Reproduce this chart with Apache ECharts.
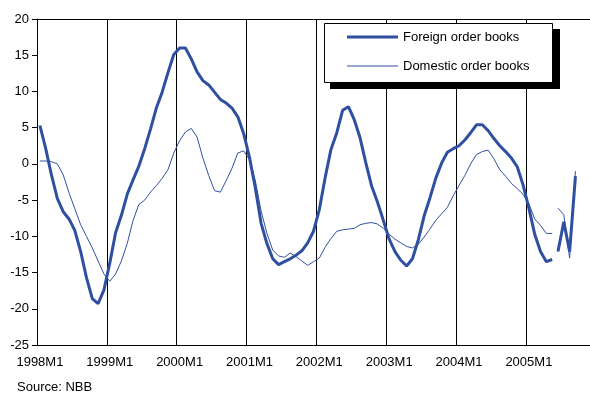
<!DOCTYPE html>
<html>
<head>
<meta charset="utf-8">
<script src="https://cdn.jsdelivr.net/npm/echarts@6/dist/echarts.min.js"></script>
<style>
  html, body { margin: 0; padding: 0; background: #fff; }
  #main { width: 590px; height: 396px; }
</style>
</head>
<body>
<div id="main"></div>
<script>
// monthly categories 1998M1 .. 2005M11
const years = [1998, 1999, 2000, 2001, 2002, 2003, 2004, 2005];
const months = [];
years.forEach(function (y) {
  for (let m = 1; m <= 12; m++) months.push(y + "M" + m);
});
const categories = months.slice(0, 95);

const foreign = [
  5.3, 2.1, -1.6, -4.8, -6.6, -7.6, -9.2, -12.1, -15.7, -18.6, -19.3, -17.4,
  -13.7, -9.5, -7.1, -4.2, -2.2, -0.3, 2.1, 4.8, 7.7, 9.9, 12.6, 15.1,
  16.0, 16.0, 14.5, 12.7, 11.5, 10.9, 9.9, 8.9, 8.4, 7.7, 6.5, 4.2,
  0.9, -3.3, -8.2, -11.0, -13.1, -13.9, -13.5, -13.1, -12.6, -12.0, -10.9, -9.3,
  -6.3, -1.9, 2.0, 4.3, 7.4, 7.9, 6.1, 3.6, 0.1, -3.1, -5.3, -7.8,
  -10.4, -12.1, -13.3, -14.1, -13.1, -10.5, -7.2, -4.7, -2.0, 0.1, 1.6, 2.1,
  2.5, 3.3, 4.3, 5.4, 5.4, 4.6, 3.5, 2.5, 1.7, 0.8, -0.4, -2.9,
  -6.1, -9.7, -12.1, -13.5, -13.2
];
const foreignTail = [-12.1, -8.0, -12.1, -1.7];

const domestic = [
  0.4, 0.4, 0.3, 0.0, -1.5, -4.0, -6.2, -8.4, -10.0, -11.6, -13.4, -15.2,
  -16.2, -15.2, -13.4, -11.0, -7.8, -5.6, -5.0, -3.9, -3.0, -2.0, -0.8, 1.5,
  3.2, 4.4, 4.9, 3.7, 0.8, -1.6, -3.7, -3.9, -2.3, -0.6, 1.5, 1.8,
  0.6, -2.3, -6.5, -9.6, -11.9, -12.7, -12.9, -12.3, -12.8, -13.4, -14.0, -13.5,
  -13.0, -11.5, -10.3, -9.3, -9.1, -9.0, -8.9, -8.4, -8.2, -8.1, -8.3, -8.9,
  -9.7, -10.4, -10.9, -11.4, -11.6, -11.1, -10.1, -9.0, -7.8, -6.9, -6.0, -4.4,
  -3.0, -1.6, 0.0, 1.3, 1.7, 1.9, 0.7, -0.8, -1.7, -2.7, -3.4, -4.2,
  -5.5, -7.6, -8.5, -9.6, -9.6
];
const domesticTail = [-6.1, -7.0, -13.0, -1.0];

const seriesNames = ["Foreign order books", "Domestic order books"];

// split each series in two pieces so the break before the last months shows
function head(arr) {
  return arr.concat(new Array(categories.length - arr.length).fill(null));
}
function tail(start, arr) {
  const out = new Array(categories.length).fill(null);
  arr.forEach(function (v, i) { out[start + i] = v; });
  return out;
}

const blue = "#2F4FA0";
const font = "'Liberation Sans', Arial, sans-serif";

const chart = echarts.init(document.getElementById("main"));

chart.setOption({
  animation: false,
  textStyle: { fontFamily: font },
  grid: { left: 37, right: 0, top: 19, bottom: 51 },
  legend: {
    data: [
      { name: seriesNames[0], icon: "path://M0,0L51,0L51,3L0,3Z" },
      { name: seriesNames[1], icon: "path://M0,0L51,0L51,1L0,1Z" }
    ],
    orient: "vertical",
    left: 347,
    top: 30,
    padding: 0,
    itemWidth: 51,
    itemHeight: 14,
    itemGap: 15,
    itemStyle: { color: blue, borderWidth: 0 },
    lineStyle: { width: 0 },
    textStyle: { color: "#000", fontSize: 13, lineHeight: 14, fontFamily: font }
  },
  xAxis: [
    {
      type: "category",
      data: categories,
      axisLine: { onZero: false, lineStyle: { color: "#000", width: 1 } },
      axisTick: { show: false, interval: 11 },
      axisLabel: { interval: 11, color: "#000", fontSize: 13, margin: 11 },
      splitLine: { show: true, interval: 11, lineStyle: { color: "#000", width: 1 } }
    },
    {
      // top frame line
      type: "category",
      position: "top",
      data: categories,
      axisLine: { onZero: false, lineStyle: { color: "#000", width: 1 } },
      axisTick: { show: false },
      axisLabel: { show: false }
    }
  ],
  yAxis: {
    type: "value",
    min: -25,
    max: 20,
    interval: 5,
    axisLine: { show: true, lineStyle: { color: "#000", width: 1 } },
    axisTick: { show: true, length: 5, lineStyle: { color: "#000" } },
    axisLabel: { color: "#000", fontSize: 13, margin: 8 },
    splitLine: { show: false }
  },
  series: [
    {
      name: seriesNames[0],
      type: "line",
      data: head(foreign),
      symbol: "none",
      lineStyle: { color: blue, width: 3 },
      itemStyle: { color: blue }
    },
    {
      name: seriesNames[0],
      type: "line",
      data: tail(foreign.length, foreignTail),
      symbol: "none",
      lineStyle: { color: blue, width: 3 },
      itemStyle: { color: blue }
    },
    {
      name: seriesNames[1],
      type: "line",
      data: head(domestic),
      symbol: "none",
      lineStyle: { color: blue, width: 1 },
      itemStyle: { color: blue }
    },
    {
      name: seriesNames[1],
      type: "line",
      data: tail(domestic.length, domesticTail),
      symbol: "none",
      lineStyle: { color: blue, width: 1 },
      itemStyle: { color: blue }
    }
  ],
  graphic: [
    {
      // legend drop shadow
      type: "rect",
      z: 3,
      shape: { x: 330, y: 29, width: 230, height: 60 },
      style: { fill: "#000" }
    },
    {
      // legend box
      type: "rect",
      z: 3,
      shape: { x: 324.5, y: 23.5, width: 228, height: 59 },
      style: { fill: "#fff", stroke: "#000", lineWidth: 1 }
    },
    {
      type: "text",
      left: 17,
      top: 381,
      style: { text: "Source: NBB", fill: "#000", font: "13px " + font }
    }
  ]
});
</script>
</body>
</html>
